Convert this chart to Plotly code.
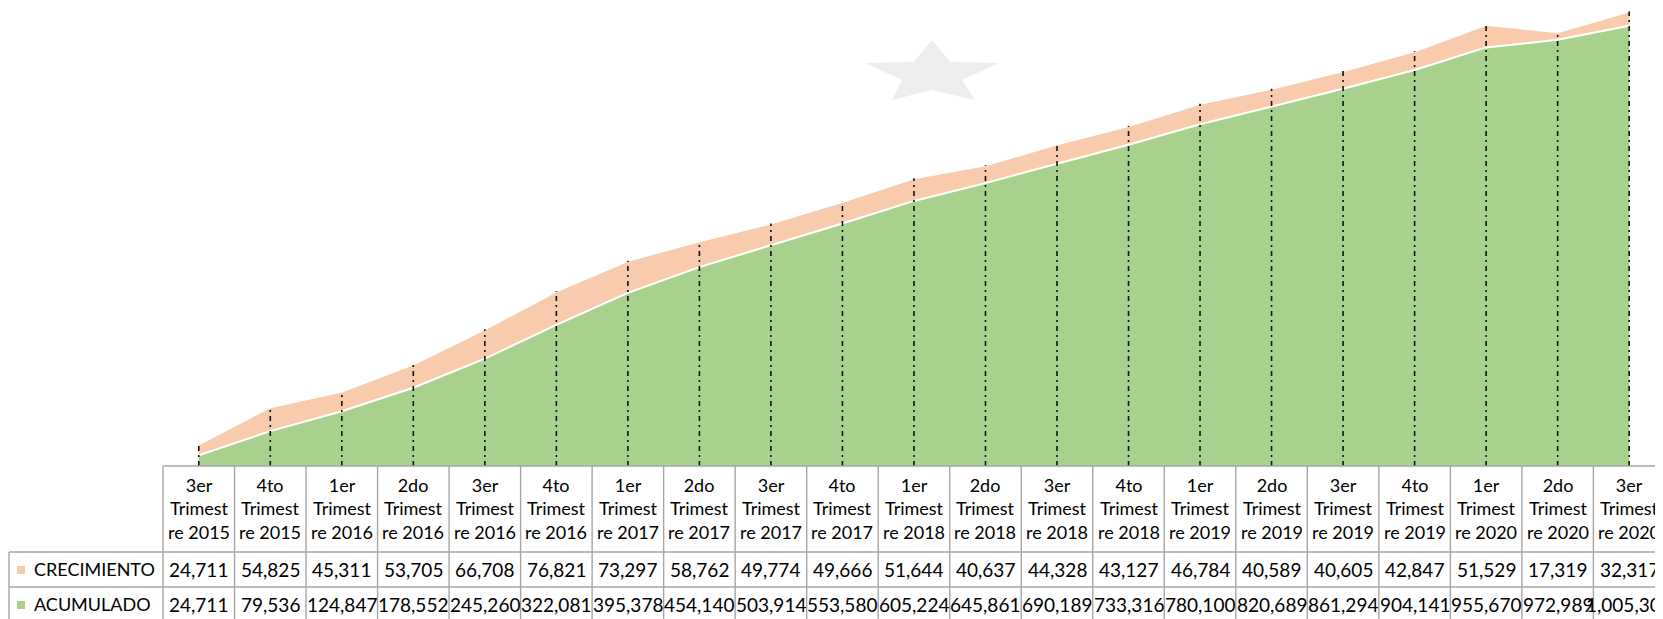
import plotly.graph_objects as go

categories = ["3er Trimestre 2015", "4to Trimestre 2015", "1er Trimestre 2016", "2do Trimestre 2016",
              "3er Trimestre 2016", "4to Trimestre 2016", "1er Trimestre 2017", "2do Trimestre 2017",
              "3er Trimestre 2017", "4to Trimestre 2017", "1er Trimestre 2018", "2do Trimestre 2018",
              "3er Trimestre 2018", "4to Trimestre 2018", "1er Trimestre 2019", "2do Trimestre 2019",
              "3er Trimestre 2019", "4to Trimestre 2019", "1er Trimestre 2020", "2do Trimestre 2020",
              "3er Trimestre 2020"]
crecimiento = [24711, 54825, 45311, 53705, 66708, 76821, 73297, 58762, 49774, 49666, 51644,
               40637, 44328, 43127, 46784, 40589, 40605, 42847, 51529, 17319, 32317]
acumulado = [24711, 79536, 124847, 178552, 245260, 322081, 395378, 454140, 503914, 553580, 605224,
             645861, 690189, 733316, 780100, 820689, 861294, 904141, 955670, 972989, 1005306]
series_names = ["CRECIMIENTO", "ACUMULADO"]

# styling
C_ORANGE = "#F8CBAD"
C_GREEN = "#A9D18E"
BORDER = "#A6A6A6"
FONT = "Lato"
FS = 19
FS_HDR = 18

# the page body has an 8px margin; work in page pixels and offset
OFF = 8
PAGE_W, PAGE_H = 1663, 619
W, H = PAGE_W - OFF, PAGE_H - OFF
PLOT_LEFT_PAGE, PLOT_BOTTOM_PAGE = 163, 466
L = PLOT_LEFT_PAGE - OFF
T = 0
B = H - (PLOT_BOTTOM_PAGE - OFF)
PLOT_H = H - T - B
PLOT_W = W - L

def py(page_y):
    return (PLOT_BOTTOM_PAGE - page_y) / PLOT_H

def px(page_x):
    return (page_x - PLOT_LEFT_PAGE) / PLOT_W

n = len(categories)
xs = list(range(n))
col_w = 71.52
x_range = [-0.5, -0.5 + PLOT_W / col_w]
px_per_unit = 0.000438

fig = go.Figure()
fig.add_trace(go.Scatter(x=xs, y=acumulado, name=series_names[1], stackgroup="s", mode="lines",
                         line=dict(color="white", width=2), fillcolor=C_GREEN, hoverinfo="skip"))
fig.add_trace(go.Scatter(x=xs, y=crecimiento, name=series_names[0], stackgroup="s", mode="lines",
                         line=dict(color="white", width=2), fillcolor=C_ORANGE, hoverinfo="skip"))

# drop lines
dx, dy = [], []
for i in xs:
    dx += [i, i, None]
    dy += [0, acumulado[i] + crecimiento[i], None]
fig.add_trace(go.Scatter(x=dx, y=dy, mode="lines", showlegend=False, hoverinfo="skip",
                         line=dict(color="#111111", width=1.6, dash="5px,4px,2px,4px")))

shapes = []
# watermark star
star = [(932, 40), (950, 62), (999, 63), (962, 80), (975, 100), (932, 90),
        (892, 100), (902, 80), (865, 63), (914, 62)]
path = "M " + " L ".join(f"{px(a):.5f},{py(b):.5f}" for a, b in star) + " Z"
shapes.append(dict(type="path", xref="paper", yref="paper", path=path,
                   fillcolor="#EDEDED", line=dict(width=0), layer="below"))

y_hdr_top, y_hdr_bot, y_r1_bot, y_end = 466, 552, 587, 625
lw = 1.4
shapes.append(dict(type="line", xref="paper", yref="paper", x0=0, x1=1.01, y0=py(y_hdr_top), y1=py(y_hdr_top),
                   line=dict(color=BORDER, width=lw)))
for yy in (y_hdr_bot, y_r1_bot):
    shapes.append(dict(type="line", xref="paper", yref="paper", x0=px(9), x1=1.01, y0=py(yy), y1=py(yy),
                       line=dict(color=BORDER, width=lw)))
shapes.append(dict(type="line", xref="paper", yref="paper", x0=px(9), x1=px(9), y0=py(y_hdr_bot), y1=py(y_end),
                   line=dict(color=BORDER, width=lw)))
shapes.append(dict(type="line", xref="paper", yref="paper", x0=0, x1=0, y0=py(y_hdr_top), y1=py(y_end),
                   line=dict(color=BORDER, width=lw)))
for i in xs:
    shapes.append(dict(type="line", xref="x", yref="paper", x0=i + 0.5, x1=i + 0.5,
                       y0=py(y_hdr_top), y1=py(y_end), line=dict(color=BORDER, width=lw)))

# legend keys in table
row_centers = {series_names[0]: 570, series_names[1]: 605}
key_colors = {series_names[0]: C_ORANGE, series_names[1]: C_GREEN}
for name, yc in row_centers.items():
    shapes.append(dict(type="rect", xref="paper", yref="paper", x0=px(17), x1=px(25),
                       y0=py(yc - 4), y1=py(yc + 4), fillcolor=key_colors[name], line=dict(width=0)))

annotations = []
def wrap(cat):
    o, word, year = cat.split()
    return f"{o}<br>{word[:7]}<br>{word[7:]} {year}"

for i, cat in enumerate(categories):
    annotations.append(dict(x=i, y=py(508), xref="x", yref="paper", text=wrap(cat), showarrow=False,
                            xanchor="center", yanchor="middle",
                            font=dict(family=FONT, size=FS_HDR, color="black")))
    annotations.append(dict(x=i, y=py(row_centers[series_names[0]] - 1), xref="x", yref="paper",
                            text=f"{crecimiento[i]:,}", showarrow=False,
                            xanchor="center", yanchor="middle", font=dict(family=FONT, size=FS, color="black")))
    annotations.append(dict(x=i, y=py(row_centers[series_names[1]] - 1), xref="x", yref="paper",
                            text=f"{acumulado[i]:,}", showarrow=False,
                            xanchor="center", yanchor="middle", font=dict(family=FONT, size=FS, color="black")))

for name, yc in row_centers.items():
    annotations.append(dict(x=px(32), y=py(yc - 1), xref="paper", yref="paper", text=name, showarrow=False,
                            xanchor="left", yanchor="middle", font=dict(family=FONT, size=FS - 1, color="black")))

fig.update_layout(
    width=W, height=H,
    margin=dict(l=L, r=0, t=T, b=B, pad=0),
    paper_bgcolor="white", plot_bgcolor="rgba(0,0,0,0)",
    showlegend=False,
    xaxis=dict(range=x_range, showgrid=False, zeroline=False, showticklabels=False, showline=False, fixedrange=True),
    yaxis=dict(range=[0, PLOT_H / px_per_unit], showgrid=False, zeroline=False, showticklabels=False,
               showline=False, fixedrange=True),
    shapes=shapes, annotations=annotations,
)

fig.write_html("out.html", config={"displayModeBar": False})
